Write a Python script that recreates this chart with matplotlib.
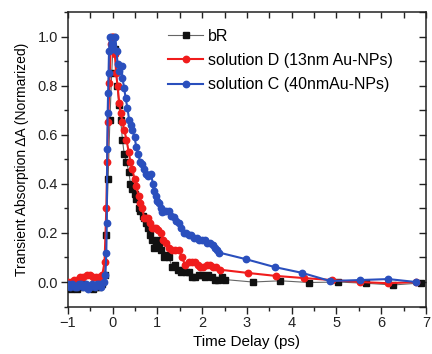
import matplotlib
matplotlib.use("Agg")
import matplotlib.pyplot as plt
from matplotlib.ticker import MultipleLocator

plt.rcParams['font.family'] = ['Liberation Sans', 'DejaVu Sans']

# bR (black squares)
br_x = [-1.0,-0.93,-0.86,-0.79,-0.72,-0.65,-0.58,-0.51,-0.44,-0.37,-0.30,-0.23,-0.18,-0.14,-0.10,-0.06,-0.02,
        0.02,0.06,0.10,0.14,0.18,0.22,0.26,0.31,0.36,0.40,0.44,0.49,0.53,0.58,0.62,0.67,0.71,0.75,0.80,0.84,
        0.88,0.93,0.97,1.01,1.04,1.08,1.15,1.22,1.26,1.33,1.40,1.46,1.52,1.58,1.64,1.70,1.77,1.85,1.92,1.99,
        2.06,2.14,2.21,2.28,2.36,2.44,2.51,3.13,3.75,4.39,5.03,5.65,6.27,6.89]
br_y = [-0.02,-0.03,-0.02,-0.03,-0.02,-0.01,-0.02,-0.02,-0.03,-0.02,-0.02,-0.01,0.03,0.19,0.42,0.66,0.85,
        1.0,0.95,0.80,0.72,0.66,0.58,0.52,0.49,0.45,0.40,0.38,0.36,0.34,0.30,0.29,0.27,0.26,0.24,0.22,0.19,
        0.17,0.14,0.15,0.17,0.16,0.13,0.10,0.11,0.10,0.06,0.07,0.05,0.04,0.05,0.04,0.04,0.02,0.02,0.03,0.03,
        0.02,0.03,0.02,0.01,0.01,0.02,0.01,0.0,0.005,-0.002,0.0,-0.005,-0.012,-0.004]

# solution D (13nm Au-NPs) (red circles)
d_x = [-1.0,-0.93,-0.86,-0.79,-0.72,-0.65,-0.58,-0.51,-0.44,-0.37,-0.30,-0.23,-0.18,-0.14,-0.12,-0.10,-0.07,
       -0.04,-0.01,0.02,0.05,0.08,0.11,0.15,0.18,0.22,0.26,0.31,0.36,0.40,0.44,0.49,0.53,0.58,0.62,0.66,0.71,
       0.75,0.80,0.84,0.88,0.93,0.97,1.02,1.08,1.13,1.19,1.26,1.33,1.40,1.48,1.55,1.62,1.70,1.77,1.84,1.90,
       1.96,2.03,2.10,2.18,2.25,2.32,2.41,3.02,3.64,4.28,4.90,5.52,6.16,6.78]
d_y = [0.0,0.0,0.01,0.01,0.02,0.02,0.03,0.03,0.02,0.02,0.02,0.03,0.08,0.30,0.49,0.65,0.81,
       0.97,1.0,1.0,0.93,0.85,0.80,0.73,0.69,0.65,0.62,0.58,0.53,0.49,0.46,0.42,0.39,0.35,0.32,0.30,0.26,
       0.26,0.26,0.24,0.22,0.22,0.22,0.21,0.20,0.17,0.16,0.14,0.13,0.13,0.13,0.10,0.07,0.08,0.08,0.08,0.07,
       0.06,0.06,0.07,0.07,0.06,0.06,0.05,0.037,0.025,0.016,0.008,0.0,-0.005,0.0]

# solution C (40nmAu-NPs) (blue circles)
c_x = [-1.0,-0.95,-0.90,-0.85,-0.80,-0.75,-0.70,-0.65,-0.60,-0.55,-0.50,-0.45,-0.40,-0.35,-0.30,-0.25,-0.20,
       -0.16,-0.14,-0.13,-0.12,-0.11,-0.10,-0.09,-0.08,-0.06,-0.02,0.02,0.06,0.09,0.11,0.15,0.20,0.22,0.26,
       0.29,0.33,0.37,0.41,0.44,0.49,0.53,0.57,0.62,0.66,0.70,0.75,0.80,0.86,0.90,0.93,0.97,1.00,1.04,1.08,
       1.11,1.15,1.20,1.26,1.31,1.37,1.42,1.48,1.53,1.59,1.64,1.70,1.76,1.82,1.88,1.94,2.00,2.06,2.12,2.18,
       2.24,2.29,2.34,2.38,2.98,3.62,4.24,4.86,5.52,6.16,6.78]
c_y = [-0.01,-0.02,-0.01,-0.02,-0.02,-0.01,-0.01,-0.02,-0.01,-0.03,-0.02,-0.01,-0.02,-0.01,-0.01,-0.02,0.0,
       0.03,0.12,0.24,0.54,0.69,0.77,0.85,0.94,1.0,0.97,0.95,1.0,0.94,0.89,0.86,0.88,0.83,0.79,
       0.75,0.71,0.66,0.64,0.62,0.59,0.55,0.52,0.49,0.48,0.46,0.44,0.43,0.44,0.40,0.37,0.35,0.33,0.32,0.30,
       0.285,0.29,0.29,0.29,0.27,0.265,0.25,0.24,0.22,0.20,0.20,0.19,0.19,0.18,0.18,0.17,0.17,0.17,0.16,0.16,
       0.15,0.14,0.13,0.12,0.093,0.061,0.037,0.004,0.008,0.012,0.0]

labels = ['bR', 'solution D (13nm Au-NPs)', 'solution C (40nmAu-NPs)']

fig = plt.figure(figsize=(4.32, 3.54), dpi=100)
ax = fig.add_axes([0.157, 0.134, 0.829, 0.832])

ax.plot(br_x, br_y, color='#666666', lw=0.8, marker='s', ms=4.2,
        mfc='#111111', mec='#111111', label=labels[0], zorder=3)
ax.plot(d_x, d_y, color='#f01c1c', lw=1.5, marker='o', ms=4.6,
        mfc='#f01c1c', mec='#f01c1c', label=labels[1], zorder=4)
ax.plot(c_x, c_y, color='#2a4fbd', lw=1.5, marker='o', ms=4.6,
        mfc='#2a4fbd', mec='#2a4fbd', label=labels[2], zorder=5)

ax.set_xlim(-1, 7)
ax.set_ylim(-0.1, 1.1)
ax.xaxis.set_major_locator(MultipleLocator(1))
ax.xaxis.set_minor_locator(MultipleLocator(0.5))
ax.yaxis.set_major_locator(MultipleLocator(0.2))
ax.yaxis.set_minor_locator(MultipleLocator(0.1))
ax.yaxis.set_major_formatter(matplotlib.ticker.FormatStrFormatter('%.1f'))

ax.tick_params(axis='both', which='major', direction='out', length=5, width=1, labelsize=10.5, colors='#222222')
ax.tick_params(axis='both', which='minor', direction='out', length=3, width=1, colors='#222222')
ax.tick_params(axis='x', pad=1.5)
ax.tick_params(axis='y', pad=2)

# top/right ticks inward (no labels)
secx = ax.secondary_xaxis('top')
secx.xaxis.set_major_locator(MultipleLocator(0.5))
secx.tick_params(direction='in', length=4, width=1, labeltop=False, colors='#222222')
secx.spines['top'].set_visible(False)
secy = ax.secondary_yaxis('right')
secy.yaxis.set_major_locator(MultipleLocator(0.1))
secy.tick_params(direction='in', length=5, width=1, labelright=False, colors='#222222')
secy.spines['right'].set_visible(False)

for s in ax.spines.values():
    s.set_linewidth(1.1)
    s.set_color('#222222')

ax.set_xlabel('Time Delay (ps)', fontsize=11, labelpad=4)
ax.set_ylabel('Transient Absorption \u0394A (Normarized)', fontsize=10, labelpad=6)

leg = ax.legend(loc='upper left', bbox_to_anchor=(0.28, 0.943), frameon=False,
                fontsize=11.5, handlelength=2.2, handletextpad=0.3, labelspacing=0.58,
                borderaxespad=0, borderpad=0)

fig.savefig('out.png', dpi=100)
